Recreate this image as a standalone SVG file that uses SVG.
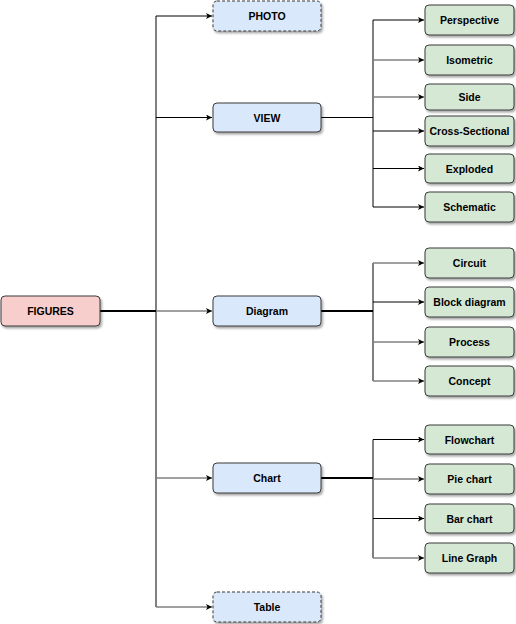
<svg xmlns="http://www.w3.org/2000/svg" width="516" height="624" viewBox="0 0 516 624">
<style>
.n rect{stroke:#3a3a3a;stroke-width:1;filter:url(#sh)}
.blue rect{fill:#dae8fc}
.green rect{fill:#d5e8d4}
.red rect{fill:#f8cecc}
.dash rect{stroke-dasharray:3 2}
text{font-family:"Liberation Sans",Arial,sans-serif;font-weight:bold;font-size:10.5px;fill:#000;text-anchor:middle;dominant-baseline:central}
.c path{fill:none;stroke:#000;stroke-width:1}
.c path.g{stroke:#808080;stroke-width:1.6}
.c path.t{stroke-width:2}
.c path.a{marker-end:url(#ar)}
</style>
<defs>
<filter id="sh" x="-10%" y="-20%" width="130%" height="160%">
<feDropShadow dx="1.5" dy="2" stdDeviation="0.8" flood-color="#000" flood-opacity="0.35"/>
</filter>
<marker id="ar" markerWidth="7" markerHeight="6" refX="6" refY="3" orient="auto" markerUnits="userSpaceOnUse">
<path d="M0,0 L6,3 L0,6 L1.5,3 z" fill="#000" stroke="none"/>
</marker>
</defs>
<g id="connectors" class="c">
<path class="t" d="M100,311 H156"/>
<path d="M156,16 V607"/>
<path class="a" d="M156,16 H212"/>
<path class="a" d="M156,117.5 H212"/>
<path class="a g" d="M156,311 H212"/>
<path class="a g" d="M156,478 H212"/>
<path class="a g" d="M156,607 H212"/>
<path d="M321,117.5 H373"/>
<path d="M373,20 V207"/>
<path class="a" d="M373,20 H424"/>
<path class="a g" d="M373,60 H424"/>
<path class="a g" d="M373,97 H424"/>
<path class="a" d="M373,131 H424"/>
<path class="a" d="M373,168.5 H424"/>
<path class="a" d="M373,207 H424"/>
<path class="t" d="M321,311 H373"/>
<path d="M373,263 V381"/>
<path class="a g" d="M373,263 H424"/>
<path class="a" d="M373,302 H424"/>
<path class="a g" d="M373,342 H424"/>
<path class="a g" d="M373,381 H424"/>
<path class="t" d="M321,478 H373"/>
<path d="M373,439.5 V558"/>
<path class="a" d="M373,439.5 H424"/>
<path class="a g" d="M373,479 H424"/>
<path class="a" d="M373,518.5 H424"/>
<path class="a g" d="M373,558 H424"/>
</g>
<g id="figures" class="n red"><rect x="1" y="296" width="99" height="30" rx="4"/><text x="50.5" y="311">FIGURES</text></g>
<g id="photo" class="n blue dash"><rect x="213" y="1" width="108" height="30" rx="4"/><text x="267" y="16">PHOTO</text></g>
<g id="view" class="n blue"><rect x="213" y="103" width="108" height="29" rx="4"/><text x="267" y="117.5">VIEW</text></g>
<g id="diagram" class="n blue"><rect x="213" y="296" width="108" height="30" rx="4"/><text x="267" y="311">Diagram</text></g>
<g id="chart" class="n blue"><rect x="213" y="463" width="108" height="30" rx="4"/><text x="267" y="478">Chart</text></g>
<g id="table" class="n blue dash"><rect x="213" y="592" width="108" height="30" rx="4"/><text x="267" y="607">Table</text></g>
<g id="perspective" class="n green"><rect x="425" y="5" width="89" height="30" rx="4"/><text x="469.5" y="20">Perspective</text></g>
<g id="isometric" class="n green"><rect x="425" y="45" width="89" height="30" rx="4"/><text x="469.5" y="60">Isometric</text></g>
<g id="side" class="n green"><rect x="425" y="84" width="89" height="26" rx="4"/><text x="469.5" y="97">Side</text></g>
<g id="cross-sectional" class="n green"><rect x="425" y="116" width="89" height="30" rx="4"/><text x="469.5" y="131">Cross-Sectional</text></g>
<g id="exploded" class="n green"><rect x="425" y="154" width="89" height="29" rx="4"/><text x="469.5" y="168.5">Exploded</text></g>
<g id="schematic" class="n green"><rect x="425" y="192" width="89" height="30" rx="4"/><text x="469.5" y="207">Schematic</text></g>
<g id="circuit" class="n green"><rect x="425" y="248" width="89" height="30" rx="4"/><text x="469.5" y="263">Circuit</text></g>
<g id="block-diagram" class="n green"><rect x="425" y="287" width="89" height="30" rx="4"/><text x="469.5" y="302">Block diagram</text></g>
<g id="process" class="n green"><rect x="425" y="327" width="89" height="30" rx="4"/><text x="469.5" y="342">Process</text></g>
<g id="concept" class="n green"><rect x="425" y="366" width="89" height="30" rx="4"/><text x="469.5" y="381">Concept</text></g>
<g id="flowchart" class="n green"><rect x="425" y="425" width="89" height="29" rx="4"/><text x="469.5" y="439.5">Flowchart</text></g>
<g id="pie-chart" class="n green"><rect x="425" y="464" width="89" height="30" rx="4"/><text x="469.5" y="479">Pie chart</text></g>
<g id="bar-chart" class="n green"><rect x="425" y="504" width="89" height="29" rx="4"/><text x="469.5" y="518.5">Bar chart</text></g>
<g id="line-graph" class="n green"><rect x="425" y="543" width="89" height="30" rx="4"/><text x="469.5" y="558">Line Graph</text></g>
</svg>
